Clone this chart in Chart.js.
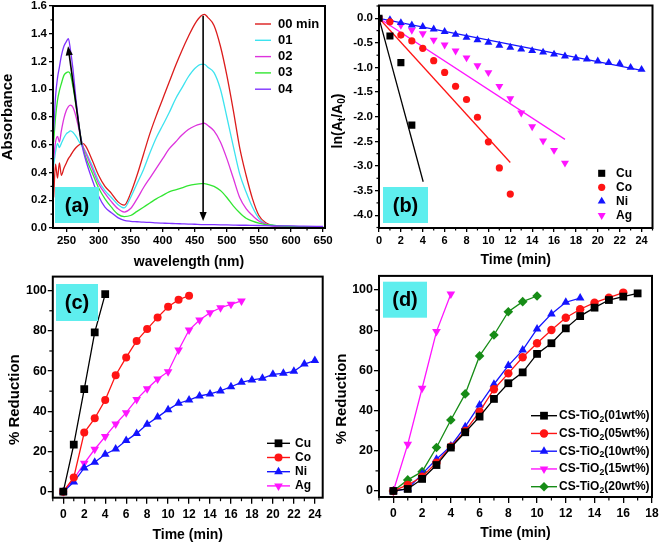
<!DOCTYPE html>
<html><head><meta charset="utf-8">
<script src="https://cdn.jsdelivr.net/npm/chart.js@4.4.1/dist/chart.umd.min.js"></script>
<style>
html,body{margin:0;padding:0;background:#fff;}
#wrap{position:relative;width:660px;height:546px;overflow:hidden;background:#fff;}
canvas{position:absolute;}
</style></head><body>
<div id="wrap">
<canvas id="cb" style="left:330px;top:0"></canvas>
<canvas id="ca" style="left:0;top:0"></canvas>
<canvas id="cc" style="left:0;top:270px"></canvas>
<canvas id="cd" style="left:330px;top:270px"></canvas>
</div>
<script>
// ---------------- DATA ----------------
// (a) UV-Vis spectra
const wavelength = [230,233,236,239,242,246,250,253,256,260,265,270,275,280,290,300,310,320,330,340,350,360,370,380,390,400,410,420,430,440,450,460,465,470,480,490,500,510,520,530,540,550,560,570,580,600,620,650];
const abs00 = [0.22,0.46,0.36,0.47,0.38,0.43,0.47,0.50,0.52,0.55,0.58,0.60,0.61,0.59,0.49,0.38,0.30,0.25,0.19,0.165,0.25,0.38,0.53,0.68,0.81,0.93,1.05,1.17,1.28,1.38,1.47,1.53,1.54,1.52,1.46,1.31,1.10,0.85,0.58,0.38,0.21,0.09,0.04,0.02,0.012,0.01,0.01,0.01];
const abs01 = [0.45,0.55,0.61,0.58,0.61,0.65,0.68,0.69,0.70,0.69,0.66,0.62,0.585,0.55,0.45,0.34,0.27,0.22,0.17,0.145,0.22,0.32,0.42,0.54,0.65,0.74,0.83,0.93,1.01,1.09,1.15,1.18,1.18,1.16,1.12,1.00,0.80,0.59,0.39,0.26,0.15,0.07,0.03,0.02,0.015,0.01,0.01,0.01];
const abs02 = [0.50,0.62,0.66,0.62,0.70,0.79,0.85,0.875,0.885,0.87,0.80,0.70,0.60,0.54,0.43,0.32,0.25,0.19,0.14,0.115,0.14,0.21,0.29,0.36,0.43,0.50,0.57,0.62,0.67,0.71,0.735,0.75,0.755,0.74,0.70,0.62,0.50,0.36,0.22,0.14,0.09,0.05,0.03,0.015,0.012,0.01,0.01,0.01];
const abs03 = [0.62,0.80,0.92,0.99,1.04,1.10,1.12,1.125,1.11,1.02,0.88,0.72,0.59,0.51,0.40,0.29,0.21,0.15,0.10,0.082,0.09,0.12,0.15,0.18,0.21,0.235,0.26,0.275,0.29,0.305,0.315,0.32,0.32,0.315,0.30,0.27,0.22,0.16,0.11,0.07,0.05,0.035,0.025,0.02,0.015,0.012,0.01,0.01];
const abs04 = [0.70,0.95,1.08,1.16,1.24,1.31,1.345,1.365,1.29,1.15,0.92,0.72,0.58,0.49,0.35,0.23,0.15,0.11,0.075,0.055,0.048,0.045,0.042,0.04,0.037,0.035,0.033,0.032,0.03,0.028,0.027,0.025,0.025,0.025,0.024,0.023,0.022,0.021,0.02,0.02,0.019,0.018,0.017,0.016,0.015,0.015,0.013,0.012];
const spectraLabels = ['00 min','01','02','03','04'];
const spectraArrows = [[463,1.53,463,0.05],[273.5,0.6,252.5,1.31]];

// time axis (minutes)
const minutes = [0,1,2,3,4,5,6,7,8,9,10,11,12,13,14,15,16,17,18,19,20,21,22,23,24];
const metals = ['Cu','Co','Ni','Ag'];

// (b) ln(At/A0) vs time
const lnCu = [0,-0.36,-0.90,-2.17];
const lnCo = [0,-0.07,-0.34,-0.46,-0.61,-0.86,-1.10,-1.38,-1.65,-2.01,-2.51,-3.04,-3.57];
const lnNi = [0,-0.03,-0.09,-0.14,-0.17,-0.22,-0.27,-0.33,-0.39,-0.44,-0.49,-0.55,-0.59,-0.63,-0.66,-0.69,-0.73,-0.77,-0.81,-0.83,-0.87,-0.90,-0.92,-1.00,-1.04];
const lnAg = [0,-0.08,-0.14,-0.24,-0.31,-0.44,-0.54,-0.66,-0.80,-0.96,-1.10,-1.38,-1.63,-1.92,-2.20,-2.49,-2.68,-2.94];
// linear fits (end points)
const fitCuX = [0,4.04], fitCuY = [0,-3.32];
const fitCoX = [0,12],   fitCoY = [0,-2.93];
const fitNiX = [0,24],   fitNiY = [0,-1.06];
const fitAgX = [0,17],   fitAgY = [0,-2.46];

// (c) % reduction vs time for metals
const redCu = [0,23.4,51,79.3,98.3];
const redCo = [0,7.1,29.4,36.5,45.6,57.9,66.8,75,80.9,86.7,92,95.5,97.5];
const redNi = [0,4.8,11.8,14.6,18.6,21.2,25.4,29,33.5,37.1,40.8,44,45.6,47.6,48.6,50.1,52.2,54.4,55.6,56.4,58.4,58.9,59.9,63.5,65.2];
const redAg = [0,6.3,14.1,21.1,27.4,33.7,39.3,45.9,51.2,56.1,59.7,70.5,80.4,85.4,89,91.5,93.2,94.9];

// (d) % reduction vs time for CS-TiO2 loadings
const loadLabels = ['CS-TiO₂(01wt%)','CS-TiO₂(05wt%)','CS-TiO₂(10wt%)','CS-TiO₂(15wt%)','CS-TiO₂(20wt%)'];
const red01 = [0,1,6,12.9,21.6,29.2,37,45.8,53.6,59,68.2,73.5,80.9,87,91.2,95,96.7,98.3];
const red05 = [0,3,7.1,14.1,22,29.9,39.5,50.6,58.5,66.5,73.5,80.1,86.2,90.4,93.7,96.2,98.7];
const red10 = [0,1,8.5,15.8,22.4,32,42.8,53.1,62.4,70.1,80.6,88.1,93.9,96];
const red15 = [0,23.2,51.1,79.3,98];
const red20 = [0,5.5,9.6,21.6,35.3,48.3,67.2,77.6,89.2,94.2,97];

// ---------------- HELPERS ----------------
const FONT = "'Liberation Sans', Arial, Helvetica, sans-serif";
const SUB = {'₀':'0','₁':'1','₂':'2','₃':'3','₄':'4','₅':'5','₆':'6','₇':'7','₈':'8','₉':'9','ₜ':'t'};
function xy(xs, ys){ return ys.map((v,i)=>({x:xs[i], y:v})); }
function richSegs(text){
  const segs=[];
  for (const ch of text){
    const sub = ch in SUB; const c = sub ? SUB[ch] : ch;
    if (segs.length && segs[segs.length-1].sub===sub) segs[segs.length-1].t += c;
    else segs.push({t:c, sub});
  }
  return segs;
}
function drawRich(ctx, text, x, y, size, align){
  const segs = richSegs(text);
  const fnt = s => 'bold ' + s + 'px ' + FONT;
  let w = 0;
  segs.forEach(s=>{ ctx.font = fnt(s.sub ? size*0.72 : size); s.w = ctx.measureText(s.t).width; w += s.w; });
  let cx = align==='center' ? x - w/2 : x;
  ctx.textAlign='left'; ctx.textBaseline='middle';
  segs.forEach(s=>{ ctx.font = fnt(s.sub ? size*0.72 : size); ctx.fillText(s.t, cx, y + (s.sub ? size*0.32 : 0)); cx += s.w; });
}
function marker(ctx, style, r, rot, x, y){
  ctx.beginPath();
  if (style==='circle') ctx.arc(x,y,r,0,Math.PI*2);
  else if (style==='rect'){ const s=r*Math.SQRT1_2; ctx.rect(x-s,y-s,2*s,2*s); }
  else if (style==='rectRot'){ ctx.moveTo(x,y-r); ctx.lineTo(x+r,y); ctx.lineTo(x,y+r); ctx.lineTo(x-r,y); ctx.closePath(); }
  else if (style==='triangle'){
    const a=(rot||0)*Math.PI/180;
    for (let k=0;k<3;k++){ const t=a-Math.PI/2+k*2*Math.PI/3; const px=x+r*Math.cos(t), py=y+r*Math.sin(t); if(k) ctx.lineTo(px,py); else ctx.moveTo(px,py); }
    ctx.closePath();
  }
  ctx.fill();
}
function makeDeco(cfg){
  return {
    id: 'deco_' + Math.random().toString(36).slice(2),
    afterDatasetsDraw(chart){
      const ctx = chart.ctx, a = chart.chartArea, xs = chart.scales.x, ys = chart.scales.y;
      ctx.save();
      // arrows (data coordinates)
      (cfg.arrows||[]).forEach(([x1,y1,x2,y2])=>{
        const p1=[xs.getPixelForValue(x1), ys.getPixelForValue(y1)];
        const p2=[xs.getPixelForValue(x2), ys.getPixelForValue(y2)];
        const ang=Math.atan2(p2[1]-p1[1], p2[0]-p1[0]); const L=9, W=3.6;
        ctx.strokeStyle='#000'; ctx.fillStyle='#000'; ctx.lineWidth=1.6;
        ctx.beginPath(); ctx.moveTo(p1[0],p1[1]); ctx.lineTo(p2[0]-Math.cos(ang)*L*0.8, p2[1]-Math.sin(ang)*L*0.8); ctx.stroke();
        ctx.beginPath(); ctx.moveTo(p2[0],p2[1]);
        ctx.lineTo(p2[0]-Math.cos(ang)*L - Math.sin(ang)*W, p2[1]-Math.sin(ang)*L + Math.cos(ang)*W);
        ctx.lineTo(p2[0]-Math.cos(ang)*L + Math.sin(ang)*W, p2[1]-Math.sin(ang)*L - Math.cos(ang)*W);
        ctx.closePath(); ctx.fill();
      });
      // panel badge
      if (cfg.badge){
        const b=cfg.badge; ctx.fillStyle='#5eeeee'; ctx.fillRect(b.x,b.y,b.w,b.h);
        ctx.fillStyle='#000'; ctx.font='bold 20px ' + FONT; ctx.textAlign='center'; ctx.textBaseline='middle';
        ctx.fillText(b.text, b.x+b.w/2, b.y+b.h/2+1);
      }
      // frame
      ctx.strokeStyle='#000'; ctx.lineWidth=2;
      ctx.strokeRect(a.left, a.top, a.right-a.left, a.bottom-a.top);
      // minor ticks
      ctx.lineWidth=1.2;
      if (cfg.minor){
        const m=cfg.minor;
        for (let v=Math.ceil(xs.min/m.x)*m.x; v<=xs.max+1e-9; v+=m.x){
          if (Math.abs(v/m.xMajor - Math.round(v/m.xMajor))<1e-6) continue;
          const px=xs.getPixelForValue(v); ctx.beginPath(); ctx.moveTo(px,a.bottom); ctx.lineTo(px,a.bottom+m.len); ctx.stroke();
        }
        for (let v=Math.ceil(ys.min/m.y)*m.y; v<=ys.max+1e-9; v+=m.y){
          if (Math.abs(v/m.yMajor - Math.round(v/m.yMajor))<1e-6) continue;
          const py=ys.getPixelForValue(v); ctx.beginPath(); ctx.moveTo(a.left,py); ctx.lineTo(a.left-m.len,py); ctx.stroke();
        }
      }
      // legend
      if (cfg.legend){
        const L=cfg.legend;
        L.items.forEach((di,k)=>{
          const ds=chart.data.datasets[di]; const y=L.y+k*L.dy;
          ctx.strokeStyle=ds.borderColor; ctx.fillStyle=ds.backgroundColor||ds.borderColor; ctx.lineWidth=1.4;
          if (L.line){ ctx.beginPath(); ctx.moveTo(L.x1,y); ctx.lineTo(L.x2,y); ctx.stroke(); }
          if (L.marker){ marker(ctx, ds.pointStyle, ds.pointRadius, ds.rotation||0, L.mx, y); }
          ctx.fillStyle='#000';
          drawRich(ctx, ds.label, L.tx, y, L.size, 'left');
        });
      }
      // free texts (e.g. axis title with subscripts)
      (cfg.texts||[]).forEach(t=>{
        ctx.save(); ctx.translate(t.x,t.y); ctx.rotate((t.rot||0)*Math.PI/180); ctx.fillStyle='#000';
        drawRich(ctx, t.text, 0, 0, t.size, 'center'); ctx.restore();
      });
      ctx.restore();
    }
  };
}
function panel(id, W, H, area, X, Y, datasets, deco){
  const cv=document.getElementById(id);
  cv.width=W; cv.height=H; cv.style.width=W+'px'; cv.style.height=H+'px';
  const tickFont = s => ({family:FONT, weight:'bold', size:s});
  return new Chart(cv, {
    type:'scatter',
    data:{datasets},
    options:{
      responsive:false, animation:false, devicePixelRatio:1, events:[],
      layout:{autoPadding:false, padding:{left:0, top:area.t, right:W-area.r, bottom:0}},
      plugins:{legend:{display:false}, tooltip:{enabled:false}},
      scales:{
        x:{type:'linear', position:'bottom', min:X.min, max:X.max,
          afterFit:s=>{ s.height=H-area.b; s.paddingLeft=0; s.paddingRight=0; },
          grid:{display:true, drawOnChartArea:false, drawTicks:true, tickLength:X.tl, color:'#000', lineWidth:1.3},
          border:{display:false},
          ticks:{stepSize:X.step, includeBounds:false, padding:X.pad, color:'#000', font:tickFont(X.fs), maxRotation:0, minRotation:0, autoSkip:false, callback:X.fmt},
          title:{display:!!X.title, text:X.title||'', color:'#000', font:{family:FONT, weight:'bold', size:X.ts, lineHeight:1}, padding:{top:0, bottom:X.tp}}
        },
        y:{type:'linear', position:'left', min:Y.min, max:Y.max,
          afterFit:s=>{ s.width=area.l; s.paddingTop=0; s.paddingBottom=0; },
          grid:{display:true, drawOnChartArea:false, drawTicks:true, tickLength:Y.tl, color:'#000', lineWidth:1.3},
          border:{display:false},
          ticks:{stepSize:Y.step, includeBounds:false, padding:Y.pad, color:'#000', font:tickFont(Y.fs), autoSkip:false, callback:Y.fmt},
          title:{display:!!Y.title, text:Y.title||'', color:'#000', font:{family:FONT, weight:'bold', size:Y.ts, lineHeight:1}, padding:{top:Y.tp, bottom:0}}
        }
      }
    },
    plugins:[makeDeco(deco)]
  });
}
const f1 = v => Number(v).toFixed(1);
const f0 = v => String(Math.round(v));

// ---------------- (a) ----------------
const specColors = ['#dc1c1c','#3de3ef','#dd33dd','#32e632','#7f33ff'];
const specData = [abs00, abs01, abs02, abs03, abs04];
panel('ca', 345, 270, {l:53, t:6, r:325, b:228},
  {min:229, max:653, step:50, tl:4, pad:1.5, fs:11.5, fmt:f0, title:'wavelength (nm)', ts:14, tp:1},
  {min:0, max:1.6, step:0.2, tl:4, pad:2, fs:11.5, fmt:f1, title:'Absorbance', ts:15, tp:0.5},
  specData.map((arr,i)=>({label:spectraLabels[i], data:xy(wavelength, arr), showLine:true, pointRadius:0,
    borderColor:specColors[i], backgroundColor:specColors[i], borderWidth:1.3, cubicInterpolationMode:'monotone', fill:false, order:5-i})),
  {arrows:spectraArrows, badge:{text:'(a)', x:55, y:187, w:44, h:36},
   minor:{x:25, xMajor:50, y:0.1, yMajor:0.2, len:2.5},
   legend:{items:[0,1,2,3,4], line:true, x1:255, x2:271, tx:278, y:24, dy:16.3, size:13}});

// ---------------- (b) ----------------
const metalColors = ['#000000','#ff1414','#1414ff','#ff14ff'];
const lnData = [lnCu, lnCo, lnNi, lnAg];
const fitX = [fitCuX, fitCoX, fitNiX, fitAgX], fitY = [fitCuY, fitCoY, fitNiY, fitAgY];
const bStyles = [['rect',5,0],['circle',3.6,0],['triangle',4.6,0],['triangle',4.6,180]];
const bSets = lnData.map((arr,i)=>({label:metals[i], data:xy(minutes, arr), showLine:false,
    pointStyle:bStyles[i][0], pointRadius:bStyles[i][1], rotation:bStyles[i][2], pointRotation:bStyles[i][2],
    backgroundColor:metalColors[i], borderColor:metalColors[i], pointBorderWidth:0, order:1}))
  .concat(fitX.map((fx,i)=>({label:metals[i]+' fit', data:xy(fx, fitY[i]), showLine:true, pointRadius:0,
    borderColor:metalColors[i], backgroundColor:metalColors[i], borderWidth:1.3, order:2})));
panel('cb', 330, 270, {l:49, t:5.5, r:322.5, b:228},
  {min:0, max:25, step:2, tl:4, pad:2.5, fs:11, fmt:f0, title:'Time (min)', ts:14, tp:3},
  {min:-4.26, max:0.26, step:0.5, tl:4, pad:2, fs:11.5, fmt:f1, title:'', ts:14, tp:0},
  bSets,
  {badge:{text:'(b)', x:53, y:187, w:45, h:36},
   minor:{x:1, xMajor:2, y:0.25, yMajor:0.5, len:2.5},
   legend:{items:[0,1,2,3], line:false, marker:true, mx:271.7, tx:286, y:173.3, dy:14, size:12},
   texts:[{text:'ln(Aₜ/A₀)', x:8, y:121, rot:-90, size:14}]});

// ---------------- (c) ----------------
const redData = [redCu, redCo, redNi, redAg];
const cStyles = [['rect',5.5,0],['circle',4,0],['triangle',5,0],['triangle',5,180]];
panel('cc', 330, 276, {l:52.8, t:6.6, r:322.7, b:227.7},
  {min:-1, max:24.75, step:2, tl:6, pad:3.5, fs:12, fmt:f0, title:'Time (min)', ts:14, tp:4},
  {min:-3, max:107, step:20, tl:5, pad:1, fs:12.5, fmt:f0, title:'% Reduction\u00a0\u00a0\u00a0\u00a0\u00a0\u00a0', ts:15, tp:7.5},
  redData.map((arr,i)=>({label:metals[i], data:xy(minutes, arr), showLine:true,
    pointStyle:cStyles[i][0], pointRadius:cStyles[i][1], rotation:cStyles[i][2], pointRotation:cStyles[i][2],
    backgroundColor:metalColors[i], borderColor:metalColors[i], borderWidth:1.3, pointBorderWidth:0})),
  {badge:{text:'(c)', x:56, y:14, w:42, h:37},
   minor:{x:1, xMajor:2, y:10, yMajor:20, len:3.5},
   legend:{items:[0,1,2,3], line:true, marker:true, x1:267, x2:290, mx:278.5, tx:295, y:173.3, dy:14.2, size:12}});

// ---------------- (d) ----------------
const loadColors = ['#000000','#ff1414','#1414ff','#ff14ff','#168c16'];
const loadData = [red01, red05, red10, red15, red20];
const dStyles = [['rect',5.5,0],['circle',4.2,0],['triangle',5,0],['triangle',5,180],['rectRot',4.8,0]];
panel('cd', 330, 276, {l:49, t:5.9, r:322, b:227},
  {min:-1, max:18, step:2, tl:6, pad:3.5, fs:12, fmt:f0, title:'Time (min)', ts:14, tp:6},
  {min:-3, max:107, step:20, tl:5, pad:1, fs:12.5, fmt:f0, title:'% Reduction\u00a0\u00a0\u00a0\u00a0\u00a0\u00a0', ts:15, tp:4.5},
  loadData.map((arr,i)=>({label:loadLabels[i], data:xy(minutes, arr), showLine:true,
    pointStyle:dStyles[i][0], pointRadius:dStyles[i][1], rotation:dStyles[i][2], pointRotation:dStyles[i][2],
    backgroundColor:loadColors[i], borderColor:loadColors[i], borderWidth:1.3, pointBorderWidth:0})),
  {badge:{text:'(d)', x:53, y:11.7, w:44, h:36},
   minor:{x:1, xMajor:2, y:10, yMajor:20, len:3.5},
   legend:{items:[0,1,2,3,4], line:true, marker:true, x1:201, x2:227, mx:214, tx:229, y:145.7, dy:17.75, size:12}});
</script>
</body></html>
